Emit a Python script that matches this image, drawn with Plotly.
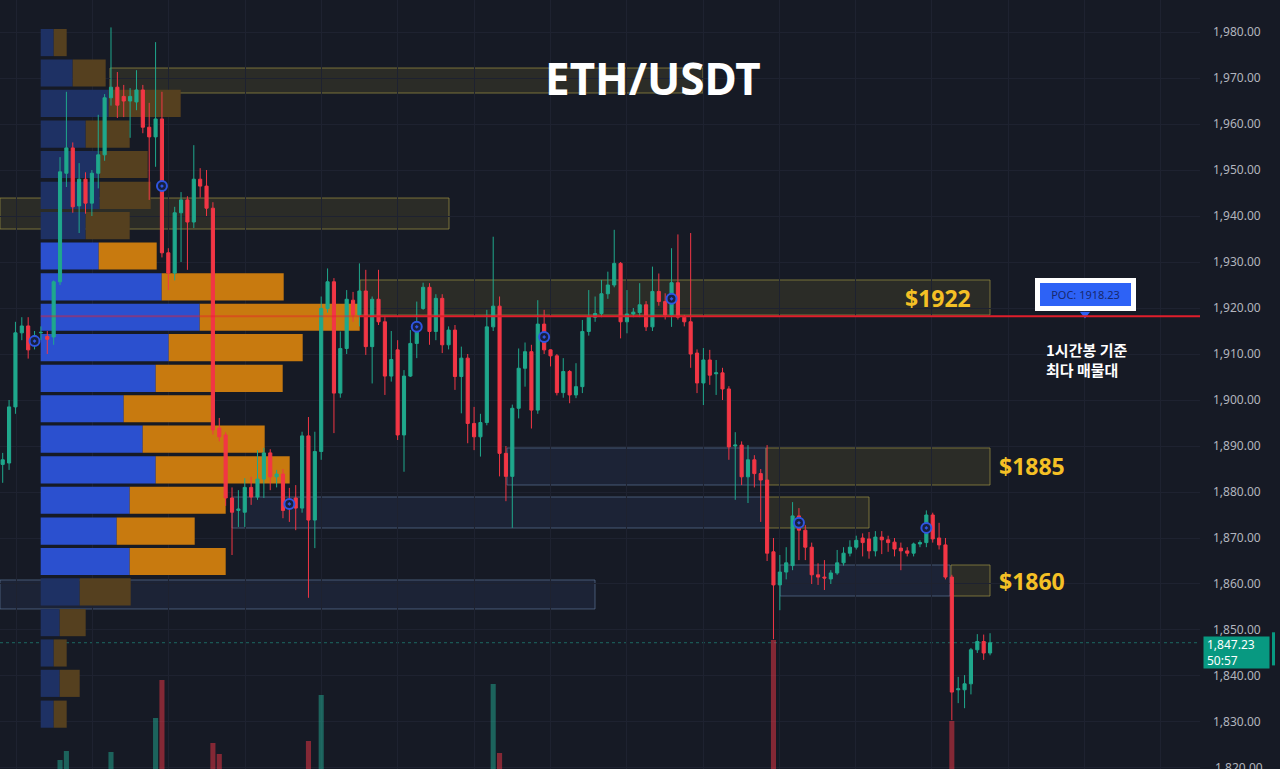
import plotly.graph_objects as go

# ---------------- data ----------------
opens = [1886.0, 1886.3, 1898.5, 1914.6, 1916.1, 1912.0, 1914.6, 1913.8, 1913.7, 1925.7,
         1949.3, 1954.8, 1942.2, 1948.0, 1942.8, 1949.3, 1953.3, 1965.7, 1968.0, 1966.0,
         1965.0, 1964.8, 1967.4, 1959.3, 1957.2, 1961.1, 1932.0, 1927.6, 1940.7, 1943.5,
         1938.7, 1948.0, 1946.5, 1941.7, 1893.9, 1892.4, 1878.7, 1876.0, 1875.6, 1881.0,
         1878.9, 1882.8, 1888.5, 1883.3, 1883.9, 1877.5, 1878.7, 1876.5, 1892.2, 1873.9,
         1888.8, 1919.9, 1925.7, 1901.5, 1911.2, 1921.7, 1918.5, 1923.7, 1911.6, 1921.9,
         1917.0, 1905.2, 1910.9, 1892.4, 1905.2, 1912.3, 1919.9, 1924.5, 1914.9, 1922.1,
         1912.0, 1915.2, 1905.1, 1909.1, 1894.9, 1892.0, 1895.1, 1915.9, 1920.4, 1888.4,
         1883.4, 1898.2, 1906.9, 1910.5, 1897.8, 1916.5, 1910.9, 1909.6, 1901.6, 1906.2,
         1901.1, 1902.9, 1914.9, 1918.0, 1918.8, 1923.1, 1925.0, 1929.7, 1917.0, 1918.7,
         1919.0, 1920.7, 1915.9, 1923.6, 1921.4, 1918.5, 1925.5, 1918.0, 1917.0, 1910.2,
         1903.7, 1908.7, 1905.7, 1905.9, 1902.4, 1890.0, 1890.2, 1883.3, 1887.0, 1884.0,
         1882.6, 1867.0, 1859.8, 1862.6, 1864.0, 1874.8, 1871.7, 1868.0, 1862.0, 1861.5,
         1861.1, 1862.4, 1864.6, 1866.7, 1868.0, 1870.0, 1869.8, 1867.2, 1870.2, 1869.6,
         1869.1, 1867.8, 1867.2, 1866.7, 1868.7, 1869.0, 1875.0, 1870.0, 1868.5, 1861.5,
         1837.0, 1837.0, 1838.3, 1845.7, 1847.5, 1845.0]
highs = [1888.5, 1900.0, 1917.0, 1918.0, 1918.0, 1915.0, 1916.0, 1915.0, 1926.0, 1952.8,
         1967.0, 1956.0, 1951.5, 1949.5, 1950.0, 1962.0, 1966.5, 1981.0, 1971.3, 1968.5,
         1967.8, 1971.7, 1968.5, 1964.6, 1977.8, 1967.0, 1933.0, 1942.0, 1945.2, 1944.3,
         1955.4, 1950.4, 1950.0, 1943.0, 1896.1, 1893.0, 1881.0, 1880.4, 1883.0, 1883.3,
         1889.1, 1889.6, 1889.3, 1884.8, 1885.0, 1880.9, 1881.5, 1893.1, 1896.3, 1893.1,
         1922.5, 1928.6, 1926.5, 1914.9, 1923.9, 1923.5, 1929.7, 1928.3, 1922.5, 1928.3,
         1918.0, 1915.0, 1913.0, 1906.5, 1915.2, 1921.4, 1925.5, 1925.4, 1923.0, 1923.0,
         1916.0, 1916.3, 1911.6, 1910.0, 1898.5, 1897.0, 1919.6, 1935.5, 1922.5, 1890.0,
         1899.0, 1911.2, 1912.5, 1912.0, 1921.7, 1919.6, 1911.0, 1910.0, 1909.1, 1906.5,
         1908.0, 1917.4, 1923.9, 1922.5, 1926.1, 1927.9, 1937.0, 1930.0, 1923.9, 1920.0,
         1925.4, 1921.5, 1929.0, 1927.5, 1923.2, 1933.0, 1936.0, 1918.5, 1936.3, 1911.0,
         1911.3, 1910.9, 1908.7, 1907.0, 1903.0, 1893.0, 1891.0, 1890.2, 1888.0, 1885.0,
         1890.2, 1870.0, 1866.3, 1868.0, 1877.8, 1876.5, 1872.8, 1869.0, 1864.5, 1865.2,
         1863.0, 1867.4, 1868.0, 1869.5, 1870.5, 1871.0, 1871.3, 1871.5, 1871.5, 1870.5,
         1870.0, 1869.0, 1868.0, 1869.0, 1869.5, 1876.0, 1875.5, 1873.3, 1870.0, 1862.0,
         1839.8, 1840.2, 1846.1, 1849.1, 1849.0, 1849.3]
lows = [1882.0, 1884.8, 1897.0, 1913.0, 1909.0, 1911.0, 1913.0, 1910.0, 1912.0, 1925.0,
        1946.3, 1940.7, 1936.3, 1940.5, 1940.0, 1946.0, 1952.0, 1964.0, 1961.3, 1961.5,
        1957.0, 1963.0, 1958.0, 1943.5, 1950.7, 1931.0, 1923.9, 1926.0, 1930.0, 1928.3,
        1937.4, 1944.0, 1940.0, 1892.5, 1891.0, 1877.0, 1866.3, 1872.4, 1872.4, 1877.2,
        1878.3, 1878.7, 1880.4, 1881.0, 1874.3, 1873.5, 1871.7, 1875.5, 1857.0, 1867.8,
        1887.0, 1919.0, 1892.8, 1900.5, 1910.0, 1917.0, 1916.0, 1909.8, 1903.6, 1916.3,
        1901.1, 1904.0, 1891.3, 1884.4, 1905.0, 1909.1, 1919.6, 1912.0, 1913.0, 1910.2,
        1911.0, 1902.2, 1897.1, 1890.6, 1889.1, 1887.7, 1894.5, 1915.0, 1883.4, 1878.0,
        1872.2, 1896.0, 1902.9, 1893.8, 1897.0, 1910.0, 1907.3, 1901.0, 1900.5, 1899.3,
        1900.4, 1901.5, 1914.0, 1917.0, 1918.0, 1922.0, 1924.5, 1913.4, 1914.5, 1918.0,
        1918.0, 1915.0, 1915.0, 1920.5, 1917.5, 1915.9, 1917.5, 1916.0, 1907.0, 1901.5,
        1898.9, 1903.3, 1901.1, 1900.0, 1887.0, 1878.3, 1881.5, 1877.6, 1881.0, 1873.5,
        1865.0, 1848.0, 1854.3, 1861.0, 1863.0, 1865.2, 1865.2, 1860.0, 1859.8, 1858.7,
        1860.0, 1862.0, 1864.0, 1866.0, 1867.5, 1866.0, 1865.5, 1866.0, 1866.5, 1867.0,
        1866.0, 1863.0, 1866.0, 1866.0, 1868.0, 1868.0, 1869.0, 1867.5, 1861.0, 1830.4,
        1834.1, 1833.0, 1836.0, 1845.0, 1843.5, 1844.5]
closes = [1887.0, 1898.5, 1914.6, 1916.1, 1910.9, 1914.0, 1914.7, 1913.2, 1925.7, 1949.6,
          1954.8, 1942.0, 1948.0, 1942.8, 1949.3, 1953.3, 1965.7, 1968.0, 1964.1, 1965.0,
          1966.0, 1967.4, 1959.3, 1957.2, 1961.1, 1932.0, 1927.6, 1940.7, 1943.5, 1938.7,
          1948.0, 1946.5, 1941.7, 1893.5, 1892.0, 1878.7, 1875.6, 1876.3, 1881.0, 1878.9,
          1882.8, 1888.5, 1883.3, 1883.9, 1876.0, 1876.8, 1876.5, 1892.2, 1873.9, 1888.8,
          1919.9, 1925.7, 1901.5, 1911.2, 1921.9, 1918.5, 1923.7, 1911.6, 1921.9, 1917.0,
          1905.2, 1908.8, 1892.4, 1905.2, 1912.3, 1914.9, 1924.5, 1914.9, 1922.1, 1912.0,
          1915.2, 1905.1, 1909.1, 1894.9, 1892.0, 1895.1, 1915.9, 1920.4, 1888.4, 1883.4,
          1898.2, 1906.9, 1910.5, 1897.8, 1916.5, 1910.9, 1909.6, 1901.6, 1906.2, 1901.1,
          1902.9, 1914.9, 1918.0, 1918.8, 1923.1, 1925.0, 1929.7, 1917.0, 1918.7, 1919.1,
          1920.7, 1915.9, 1923.6, 1921.4, 1918.5, 1925.5, 1918.0, 1917.0, 1910.0, 1903.7,
          1908.7, 1905.4, 1905.9, 1902.4, 1889.8, 1890.2, 1883.3, 1887.0, 1884.0, 1882.6,
          1866.7, 1859.8, 1862.6, 1864.6, 1874.8, 1871.7, 1868.0, 1862.0, 1861.5, 1861.3,
          1862.4, 1864.6, 1866.7, 1868.0, 1869.5, 1869.0, 1867.2, 1870.2, 1869.6, 1869.0,
          1867.6, 1867.2, 1866.7, 1868.7, 1869.0, 1875.0, 1869.8, 1868.5, 1861.5, 1836.5,
          1837.2, 1838.3, 1845.7, 1847.5, 1845.0, 1847.23]
candle_idx = list(range(len(opens)))

volumes = [62, 48, 55, 40, 52, 38, 30, 35, 71, 109,
           118, 84, 66, 58, 73, 61, 88, 117, 79, 44,
           41, 57, 69, 63, 151, 189, 92, 75, 54, 60,
           72, 49, 65, 126, 115, 96, 83, 47, 70, 45,
           58, 81, 62, 36, 77, 50, 64, 93, 128, 98,
           174, 86, 95, 60, 78, 52, 68, 80, 74, 59,
           71, 46, 90, 84, 66, 57, 63, 70, 55, 67,
           42, 69, 61, 85, 58, 53, 94, 185, 116, 72,
           89, 64, 51, 76, 91, 62, 39, 66, 48, 57,
           44, 73, 60, 43, 55, 49, 82, 87, 52, 33,
           40, 56, 74, 47, 50, 79, 90, 38, 97, 68,
           61, 54, 35, 49, 88, 59, 65, 57, 46, 63,
           99, 229, 84, 52, 77, 60, 48, 55, 42, 37,
           33, 39, 44, 36, 41, 30, 45, 38, 34, 31,
           36, 40, 29, 35, 32, 58, 51, 43, 70, 148,
           76, 64, 71, 53, 41, 36]

signal_idx = [5, 25, 45, 65, 85, 105, 125, 145]
signal_price = [1912.8, 1946.5, 1877.4, 1915.9, 1913.7, 1922.0, 1873.3, 1872.2]

profile_price = [1977.7, 1971.1, 1964.5, 1957.8, 1951.2, 1944.5, 1937.9, 1931.3,
                 1924.6, 1918.0, 1911.4, 1904.7, 1898.1, 1891.5, 1884.8, 1878.2,
                 1871.5, 1864.9, 1858.3, 1851.6, 1845.0, 1838.4, 1831.7]
profile_buy = [13, 32, 68, 45, 59, 59, 45, 58, 121, 159, 128, 115,
               83, 102, 115, 89, 76, 89, 39, 19, 13, 19, 13]
profile_sell = [13, 33, 72, 44, 48, 51, 44, 58, 122, 160, 134, 127,
                88, 122, 134, 96, 78, 96, 51, 26, 13, 20, 13]
profile_in_value_area = [False, False, False, False, False, False, False, True,
                         True, True, True, True, True, True, True, True,
                         True, True, False, False, False, False, False]

price_ticks = [1820, 1830, 1840, 1850, 1860, 1870, 1880, 1890, 1900, 1910,
               1920, 1930, 1940, 1950, 1960, 1970, 1980]

poc_price = 1918.23
last_price = 1847.23
level_labels = ["$1922", "$1885", "$1860"]

# ---------------- style ----------------
BG = "#161a25"
GRID = "#1e2230"
UP = "#1fa88c"
DN = "#f23645"
FONT = "Noto Sans"

fig = go.Figure()

# volume profile (base x axis, pixel-like units)
prof_left = 40.7
buy_colors = ["#2b50cf" if v else "#1e3164" for v in profile_in_value_area]
sell_colors = ["#c87a0f" if v else "#55401f" for v in profile_in_value_area]
fig.add_trace(go.Bar(
    y=profile_price, x=profile_buy, base=[prof_left] * len(profile_buy),
    orientation="h", width=5.9, marker=dict(color=buy_colors, line=dict(width=0)),
    xaxis="x", yaxis="y", hoverinfo="skip"))
fig.add_trace(go.Bar(
    y=profile_price, x=profile_sell,
    base=[prof_left + b for b in profile_buy],
    orientation="h", width=5.9, marker=dict(color=sell_colors, line=dict(width=0)),
    xaxis="x", yaxis="y", hoverinfo="skip"))

# volume bars
vol_colors = ["rgba(34,171,148,0.5)" if c >= o else "rgba(242,54,69,0.5)"
              for o, c in zip(opens, closes)]
fig.add_trace(go.Bar(
    x=candle_idx, y=volumes, marker=dict(color=vol_colors, line=dict(width=0)),
    width=0.8, xaxis="x2", yaxis="y2", hoverinfo="skip"))

# candles
fig.add_trace(go.Candlestick(
    x=candle_idx, open=opens, high=highs, low=lows, close=closes,
    increasing=dict(line=dict(color=UP, width=1), fillcolor=UP),
    decreasing=dict(line=dict(color=DN, width=1), fillcolor=DN),
    whiskerwidth=0, xaxis="x2", yaxis="y", hoverinfo="skip"))

# signal circles
fig.add_trace(go.Scatter(
    x=signal_idx, y=signal_price, mode="markers", xaxis="x2", yaxis="y",
    marker=dict(symbol="circle-dot", size=10, color="#17203f",
                line=dict(color="#2f55e0", width=2)),
    hoverinfo="skip"))

# POC marker triangle
fig.add_trace(go.Scatter(
    x=[1085], y=[1918.7], mode="markers", xaxis="x", yaxis="y",
    marker=dict(symbol="triangle-down", size=9, color="#2d62f6"),
    hoverinfo="skip"))

# ---------------- zones ----------------
YF, YL = "rgba(130,120,50,0.20)", "rgba(150,140,65,0.75)"
BF, BL = "rgba(60,90,140,0.16)", "rgba(95,120,155,0.65)"
zones = [
    (110, 703, 1966.74, 1972.17, "y"),
    (0, 449, 1937.17, 1943.91, "y"),
    (360, 990, 1918.48, 1926.09, "y"),
    (507, 766, 1881.52, 1889.57, "b"),
    (766, 990, 1881.52, 1889.57, "y"),
    (232, 766, 1872.17, 1878.91, "b"),
    (766, 869, 1872.17, 1878.91, "y"),
    (0, 595, 1854.57, 1860.87, "b"),
    (780, 950, 1857.39, 1864.13, "b"),
    (951, 990, 1857.39, 1864.13, "y"),
]
shapes = []
for x0, x1, y0, y1, kind in zones:
    fill, line = (YF, YL) if kind == "y" else (BF, BL)
    shapes.append(dict(type="rect", xref="x", yref="y", x0=x0, x1=x1, y0=y0, y1=y1,
                       fillcolor=fill, line=dict(color=line, width=1), layer="below"))

# current price dotted line
shapes.append(dict(type="line", xref="x", yref="y", x0=0, x1=1200, y0=last_price, y1=last_price,
                   line=dict(color="rgba(34,171,148,0.55)", width=1, dash="dot"), layer="below"))
# POC line
shapes.append(dict(type="line", xref="x", yref="y", x0=prof_left, x1=360, y0=poc_price, y1=poc_price,
                   line=dict(color="rgba(230,30,45,0.45)", width=2), layer="above"))
shapes.append(dict(type="line", xref="x", yref="y", x0=360, x1=1200, y0=poc_price, y1=poc_price,
                   line=dict(color="#e01e2b", width=2), layer="above"))
# right-edge teal marker
shapes.append(dict(type="rect", xref="paper", yref="y", x0=1272 / 1200, x1=1275 / 1200,
                   y0=1842.3, y1=1849.5, fillcolor="#089981", line=dict(width=0)))

annotations = [
    dict(x=653, y=1970.1, xref="x", yref="y", text="<b>ETH/USDT</b>", showarrow=False,
         font=dict(family=FONT, size=44, color="white")),
    dict(x=938, y=1922.2, xref="x", yref="y", text="<b>" + level_labels[0] + "</b>", showarrow=False,
         font=dict(family=FONT, size=23, color="#f4c025")),
    dict(x=997, y=1885.65, xref="x", yref="y", xanchor="left", text="<b>" + level_labels[1] + "</b>",
         showarrow=False, font=dict(family=FONT, size=23, color="#f4c025")),
    dict(x=997, y=1860.65, xref="x", yref="y", xanchor="left", text="<b>" + level_labels[2] + "</b>",
         showarrow=False, font=dict(family=FONT, size=23, color="#f4c025")),
    dict(x=1085.5, y=1922.93, xref="x", yref="y", text="POC: 1918.23", showarrow=False,
         font=dict(family=FONT, size=11, color="#17286e"), bgcolor="#2d62f6",
         bordercolor="white", borderwidth=5, borderpad=3, width=85, height=17),
    dict(x=1044, y=1908.7, xref="x", yref="y", xanchor="left", align="left",
         text="<b>1시간봉 기준<br>최다 매물대</b>", showarrow=False,
         font=dict(family="Noto Sans CJK KR", size=15, color="white")),
    dict(x=1203 / 1200, y=1845.2, xref="paper", yref="y", xanchor="left", align="left",
         text="1,847.23<br>50:57", showarrow=False,
         font=dict(family=FONT, size=12, color="white"), bgcolor="#089981",
         borderpad=3, width=59, height=25),
    # bottom tick label cut by the frame edge, as in the source
    dict(x=1213 / 1200, y=1820, xref="paper", yref="y", xanchor="left", yanchor="middle",
         text="1,820.00", showarrow=False,
         font=dict(family=FONT, size=12, color="#b2b5be")),
]

fig.update_layout(
    width=1280, height=769,
    margin=dict(l=0, r=80, t=0, b=0),
    paper_bgcolor=BG, plot_bgcolor=BG,
    showlegend=False, barmode="overlay",
    xaxis=dict(range=[0, 1200], showgrid=True, gridcolor=GRID, tick0=16.3, dtick=76.3,
               showticklabels=False, zeroline=False, ticks="", showline=False),
    xaxis2=dict(overlaying="x", range=[-0.424, 187.96], visible=False,
                rangeslider=dict(visible=False)),
    yaxis=dict(range=[1819.78, 1986.96], side="right", tickvals=price_ticks,
               tickformat=",.2f", showgrid=True, gridcolor=GRID, zeroline=False,
               ticks="", showline=False, ticklabelstandoff=12,
               tickfont=dict(family=FONT, size=12, color="#b2b5be")),
    yaxis2=dict(overlaying="y", range=[100, 869], visible=False),
    shapes=shapes, annotations=annotations,
)

fig.write_html(
    "out.html",
    config={"displayModeBar": False},
    post_script="document.body.style.margin='0';document.body.style.overflow='hidden';"
                "document.body.style.background='" + BG + "';",
)
